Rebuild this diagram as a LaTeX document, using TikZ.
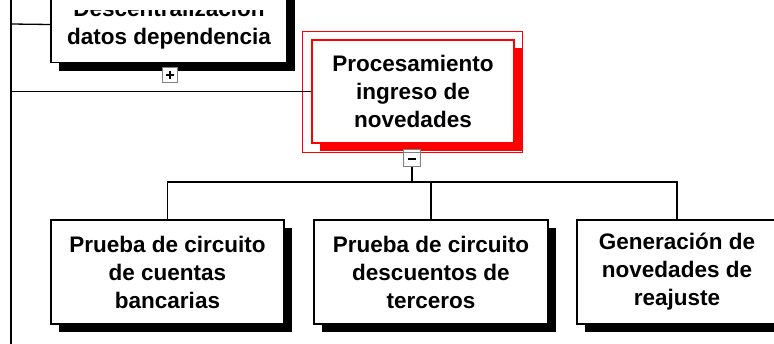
\documentclass[tikz,border=0pt]{standalone}
\usepackage{fontspec}
\setmainfont{Liberation Sans}
\usetikzlibrary{shadows,calc}
\begin{document}
\begin{tikzpicture}[x=1pt,y=-1pt,
  boxbase/.style={draw=black, line width=1.3pt, fill=white, align=center, inner sep=0pt,
    font=\fontsize{22.5}{28}\selectfont\bfseries},
  box/.style={boxbase, drop shadow={shadow xshift=8pt, shadow yshift=-8pt, opacity=1, fill=black, draw=none}},
  redbox/.style={boxbase, draw=red, drop shadow={shadow xshift=8pt, shadow yshift=-8pt, opacity=1, fill=red, draw=none}},
  conn/.style={draw=black, line width=1.3pt},
  tog/.style={draw=gray, line width=1pt, fill=white, inner sep=0pt}]
\useasboundingbox (0,0) rectangle (774,343);
\clip (0,0) rectangle (774,343);
\coordinate (L0) at (11,-5);
\coordinate (L1) at (11,350);
\coordinate (ja) at (11,24);
\coordinate (jb) at (11,91.5);
\draw[conn] (L0) -- (L1);

\node[box, minimum width=236pt, minimum height=76pt] (dd) at (169,24.5) {Descentralización\\datos dependencia};
% the view cuts off the top of the first line
\coordinate (mask1) at (52,-2);
\coordinate (mask2) at (286,10);
\fill[white] (mask1) rectangle (mask2);

\node[redbox, minimum width=202pt, minimum height=103pt] (proc) at (413,91.5) {Procesamiento\\ingreso de\\novedades};
\draw[red, line width=1pt] ($(proc.north west)+(-9,-8)$) rectangle ($(proc.south east)+(8,9)$);

\draw[conn] (ja) -- (dd.west);
\draw[conn] (jb) -- (proc.west);

\node[tog, minimum width=15pt, minimum height=15pt] (plus) at (170,75) {};
\draw[line width=1.2pt] ([xshift=-4pt]plus.center) -- ([xshift=4pt]plus.center);
\draw[line width=1.2pt] ([yshift=-4pt]plus.center) -- ([yshift=4pt]plus.center);

\node[box, minimum width=233pt, minimum height=104pt] (b1) at (167.5,272) {Prueba de circuito\\de cuentas\\bancarias};
\node[box, minimum width=234pt, minimum height=104pt] (b2) at (431,272) {Prueba de circuito\\descuentos de\\terceros};
\node[box, minimum width=200pt, minimum height=104pt] (b3) at (677,272) {Generación de\\novedades de\\reajuste};

\node[tog, minimum width=17pt, minimum height=17pt] (minus) at (412,158) {};
\draw[gray, line width=0.8pt] ([yshift=-3.5pt]minus.north west) -- ([yshift=-3.5pt]minus.north east);
\draw[line width=1.2pt] ([xshift=-4pt,yshift=-1pt]minus.center) -- ([xshift=4pt,yshift=-1pt]minus.center);

\coordinate (hub) at (412,182);
\draw[conn] (minus.south) -- (hub);
\draw[conn] (hub) -| (b1.north);
\draw[conn] (hub) -| (b2.north);
\draw[conn] (hub) -| (b3.north);
\end{tikzpicture}
\end{document}
